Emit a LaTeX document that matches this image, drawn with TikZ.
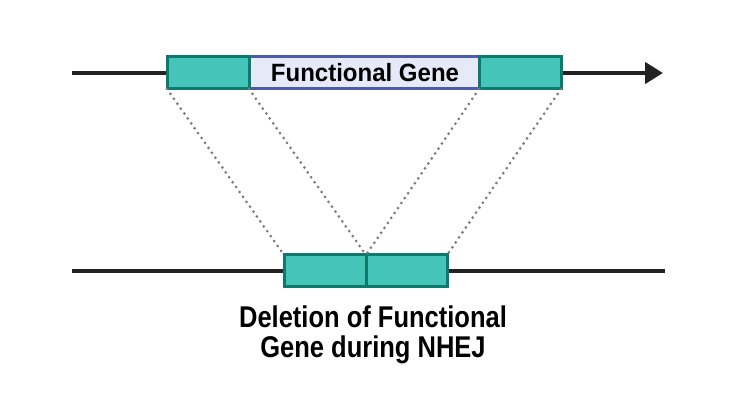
\documentclass[tikz,border=0pt]{standalone}
\usepackage{fontspec}
\setmainfont{Liberation Sans}
\usetikzlibrary{arrows.meta}
\definecolor{tealfill}{HTML}{45C4B9}
\definecolor{tealdraw}{HTML}{0E7A6E}
\definecolor{genefill}{HTML}{E6E9F8}
\definecolor{genedraw}{HTML}{4E5BA6}
\definecolor{dotgray}{HTML}{7A7A7A}
\definecolor{linecol}{HTML}{222222}
\begin{document}
\begin{tikzpicture}[x=1pt,y=-1pt,
  exon/.style={draw=tealdraw,fill=tealfill,line width=3pt,minimum height=32pt,inner sep=0pt,outer sep=0pt},
  gene/.style={draw=genedraw,fill=genefill,line width=3pt,minimum height=32pt,inner sep=0pt,outer sep=0pt},
  dna/.style={draw=linecol,line width=4.5pt},
  link/.style={draw=dotgray,line width=3pt,line cap=round,dash pattern=on 0pt off 6pt}]
\useasboundingbox (0,0) rectangle (750,406);
% top strand
\coordinate (tl) at (72,73);
\coordinate (tr) at (663,73);
\draw[dna,-{Triangle[length=18pt,width=21pt]}] (tl) -- (tr);
\node[gene,minimum width=230pt] (g) at (364,73) {};
\node[exon,minimum width=82pt] (e1) at (208,73) {};
\node[exon,minimum width=82pt] (e2) at (520,73) {};
\node[font=\bfseries\fontsize{25}{30}\selectfont] (gl) at (365,73) {\scalebox{0.96}[1]{Functional Gene}};
% bottom strand
\coordinate (bl) at (72,271);
\coordinate (br) at (665,271);
\draw[dna] (bl) -- (br);
\node[exon,minimum width=82pt] (b1) at (325,271) {};
\node[exon,minimum width=81pt] (b2) at (406.5,271) {};
% dotted links
\draw[link] (e1.south west) -- (b1.north west);
\draw[link] (e1.south east) -- (b1.north east);
\draw[link] (e2.south west) -- (b2.north west);
\draw[link] (e2.south east) -- (b2.north east);
% caption
\node[font=\bfseries\fontsize{30}{30}\selectfont,align=center] (cap) at (373,335) {\scalebox{0.85}[1]{Deletion of Functional}\\\scalebox{0.85}[1]{Gene during NHEJ}};
\end{tikzpicture}
\end{document}
